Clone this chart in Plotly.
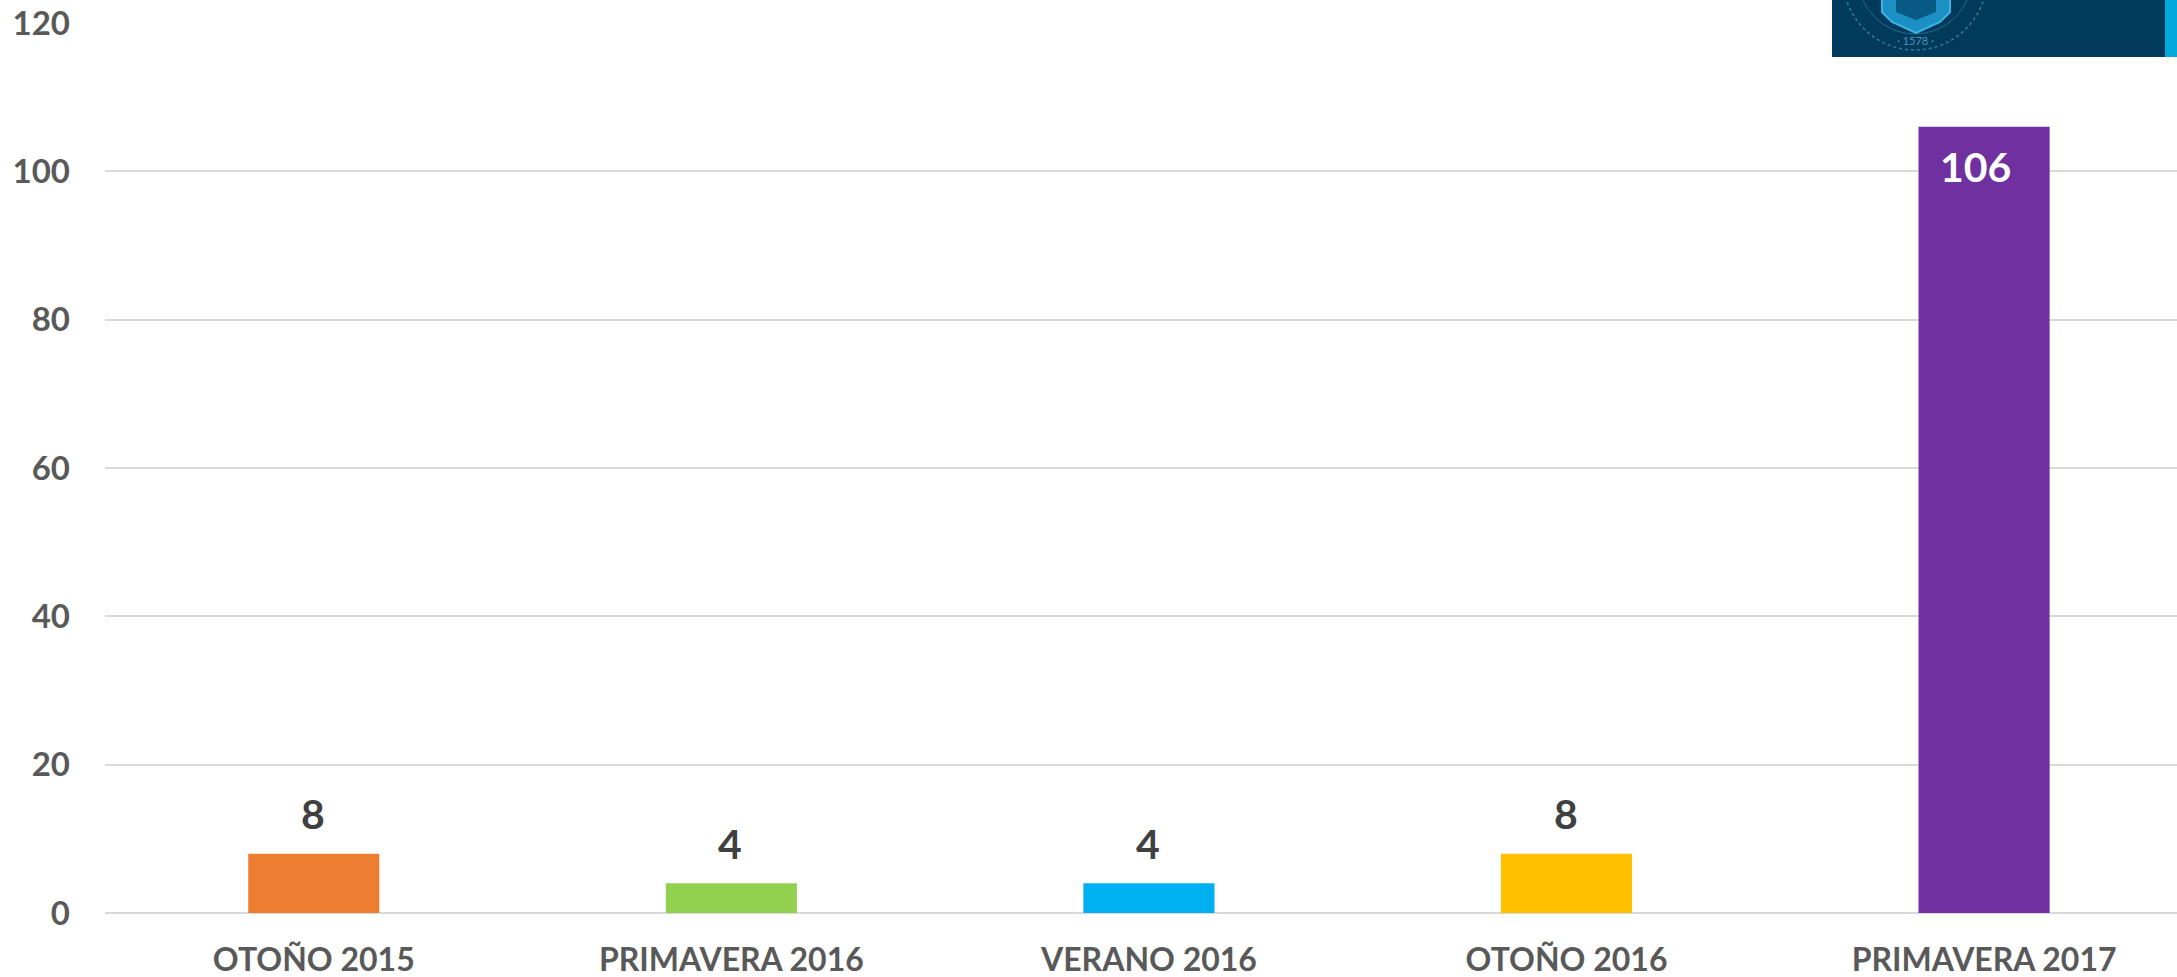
import plotly.graph_objects as go

categories = ["OTOÑO 2015", "PRIMAVERA 2016", "VERANO 2016", "OTOÑO 2016", "PRIMAVERA 2017"]
values = [8, 4, 4, 8, 106]
bar_colors = ["#ED7D31", "#92D050", "#00B0F0", "#FFC000", "#7030A0"]
y_ticks = [0, 20, 40, 60, 80, 100, 120]
FONT = "Lato, Carlito, Calibri, sans-serif"

fig = go.Figure(go.Bar(
    x=categories, y=values, marker=dict(color=bar_colors, line=dict(width=0)),
    width=0.314, hoverinfo="x+y",
))

for c, v in zip(categories, values):
    inside = v > 50
    fig.add_annotation(
        x=c, y=v, text=f"<b>{v}</b>", showarrow=False,
        xshift=-9 if inside else -1,
        yshift=-40 if inside else 40,
        font=dict(family=FONT, size=41, color="#FFFFFF" if inside else "#404040"),
    )

X = lambda px: (px - 105) / (2177 - 105)
Y = lambda px: 1 - (px - 23) / (977 - 23 - 64)

fig.add_annotation(xref="paper", yref="paper", x=X(1915), y=Y(41), xanchor="center", yanchor="middle",
                   text="· 1578 ·", showarrow=False,
                   font=dict(family=FONT, size=11, color="#4A93B8"))

fig.update_layout(
    width=2177, height=977,
    margin=dict(l=105, r=0, t=23, b=64, autoexpand=False),
    paper_bgcolor="white", plot_bgcolor="white",
    showlegend=False,
    xaxis=dict(type="category", range=[-0.5, 4.462], showgrid=False, showline=False,
               ticks="", tickfont=dict(family=FONT, size=32, color="#595959", weight="bold"),
               ticklabelstandoff=25, fixedrange=True, automargin=False),
    yaxis=dict(range=[0, 120], tickvals=y_ticks, showgrid=True, gridcolor="#D9D9D9", gridwidth=2,
               zeroline=True, zerolinecolor="#D9D9D9", zerolinewidth=2, showline=False, ticks="",
               tickfont=dict(family=FONT, size=33, color="#595959", weight="bold"),
               ticklabelstandoff=34, fixedrange=True, automargin=False),
    font=dict(family=FONT),
    shapes=[
        dict(type="rect", xref="paper", yref="paper", x0=X(1832), x1=X(2165), y0=Y(57), y1=Y(-10),
             fillcolor="#023A5C", line=dict(width=0), layer="above"),
        dict(type="rect", xref="paper", yref="paper", x0=X(2165), x1=X(2177), y0=Y(57), y1=Y(-10),
             fillcolor="#00A9DC", line=dict(width=0), layer="above"),
        dict(type="circle", xref="paper", yref="paper", x0=X(1843), x1=X(1987), y0=Y(50), y1=Y(-94),
             line=dict(color="#2A7FA6", width=1.5, dash="dot"), layer="above"),
        dict(type="circle", xref="paper", yref="paper", x0=X(1858), x1=X(1972), y0=Y(34), y1=Y(-80),
             line=dict(color="#1E6A90", width=1), layer="above"),
        dict(type="path", xref="paper", yref="paper",
             path=f"M {X(1882)} {Y(-5)} L {X(1950)} {Y(-5)} L {X(1950)} {Y(12)} L {X(1940)} {Y(22)} "
                  f"L {X(1916)} {Y(33)} L {X(1892)} {Y(22)} L {X(1882)} {Y(12)} Z",
             fillcolor="#1C8FC4", line=dict(color="#3DB4E6", width=2), layer="above"),
        dict(type="path", xref="paper", yref="paper",
             path=f"M {X(1896)} {Y(-5)} L {X(1936)} {Y(-5)} L {X(1936)} {Y(12)} L {X(1916)} {Y(20)} "
                  f"L {X(1896)} {Y(12)} Z",
             fillcolor="#0A5A86", line=dict(width=0), layer="above"),
    ],
)

fig.write_html("out.html", config=dict(displayModeBar=False),
               post_script="document.body.style.margin='0';document.body.style.overflow='hidden';")
